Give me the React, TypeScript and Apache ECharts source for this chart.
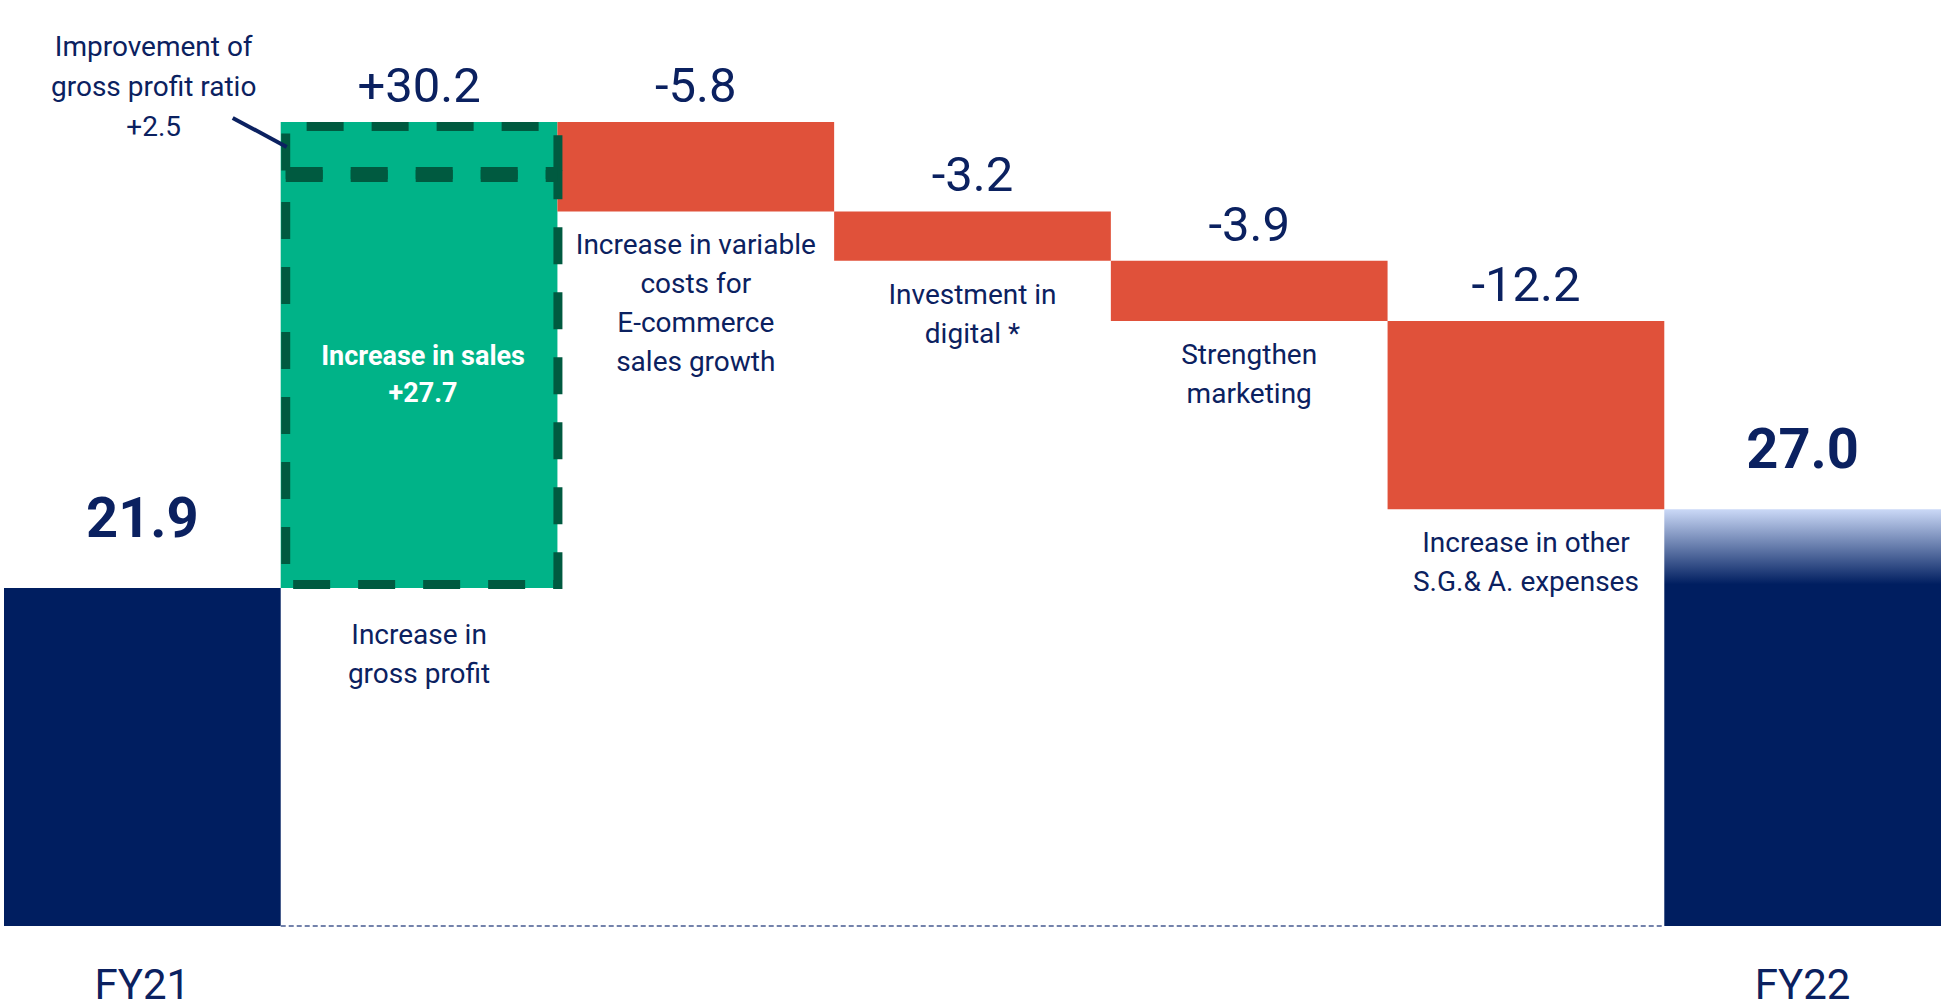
import React, { useEffect, useRef } from "react";
import * as echarts from "echarts";

// ---- data ----
const categories = [
  "FY21",
  "Increase in gross profit",
  "Increase in variable costs for E-commerce sales growth",
  "Investment in digital *",
  "Strengthen marketing",
  "Increase in other S.G.& A. expenses",
  "FY22",
];
const tickLabels = ["FY21", "", "", "", "", "", "FY22"];
const descLabels = [
  "",
  "Increase in\ngross profit",
  "Increase in variable\ncosts for\nE-commerce\nsales growth",
  "Investment in\ndigital *",
  "Strengthen\nmarketing",
  "Increase in other\nS.G.& A. expenses",
  "",
];
const changes = [21.9, 30.2, -5.8, -3.2, -3.9, -12.2, 27.0];
const kinds = ["total", "up", "down", "down", "down", "down", "total"];
// breakdown of the gross profit increase
const grossProfitParts = [27.7, 2.5];
const grossProfitPartLabels = ["Increase in sales", "Improvement of\ngross profit ratio"];
const grossProfitIndex = 1;

// ---- styles ----
const FONT = "Roboto, 'Noto Sans', sans-serif";
const TEXT = "#0b2160";
const NAVY = "#001e60";
const GREEN = "#00b388";
const DARK_GREEN = "#005a40";
const RED = "#e0513a";

// waterfall geometry from data
const bases: number[] = [];
const heights: number[] = [];
{
  let running = 0;
  changes.forEach((c, i) => {
    if (kinds[i] === "total") {
      bases.push(0);
      heights.push(c);
      running = c;
    } else if (c >= 0) {
      bases.push(+running.toFixed(2));
      heights.push(c);
      running += c;
    } else {
      running += c;
      bases.push(+running.toFixed(2));
      heights.push(-c);
    }
  });
}
const valueLabels = changes.map((c, i) =>
  kinds[i] === "up" ? "+" + c.toFixed(1) : c.toFixed(1)
);

export default function App() {
  const ref = useRef<HTMLDivElement>(null);
  useEffect(() => {
    if (!ref.current) return;
    const chart = echarts.init(ref.current, undefined, { renderer: "svg" });

    const valueData = heights.map((h, i) => {
      const k = kinds[i];
      let color: any = k === "up" ? GREEN : k === "down" ? RED : NAVY;
      if (i === changes.length - 1) {
        color = {
          type: "linear",
          x: 0,
          y: 0,
          x2: 0,
          y2: 1,
          colorStops: [
            { offset: 0, color: "#cbd9f7" },
            { offset: 0.18, color: NAVY },
            { offset: 1, color: NAVY },
          ],
        };
      }
      const isTotal = k === "total";
      return {
        value: h,
        itemStyle: { color },
        label: {
          fontSize: isTotal ? 56 : 49,
          fontWeight: isTotal ? "bold" : "normal",
          lineHeight: isTotal ? 56 : 49,
          distance: isTotal ? (i === 0 ? 42 : 32) : 12,
        },
      };
    });

    const baseData = bases.map((b, i) => ({
      value: b,
      label: { distance: i === grossProfitIndex ? 27 : 14 },
    }));

    const gpTop = bases[grossProfitIndex] + heights[grossProfitIndex];
    const gpSplit = bases[grossProfitIndex] + grossProfitParts[0];

    const option: any = {
      animation: false,
      backgroundColor: "#ffffff",
      grid: { left: 4, right: 5, top: 0, bottom: 82, containLabel: false },
      xAxis: {
        type: "category",
        data: categories,
        axisLine: { show: false },
        axisTick: { show: false },
        axisLabel: {
          interval: 0,
          margin: 37,
          fontSize: 42,
          lineHeight: 42,
          color: TEXT,
          fontFamily: FONT,
          formatter: (_v: string, idx: number) => tickLabels[idx],
        },
      },
      yAxis: {
        type: "value",
        min: 0,
        max: 60,
        show: false,
        splitLine: { show: false },
      },
      series: [
        {
          name: "base",
          type: "bar",
          stack: "w",
          barCategoryGap: "0%",
          itemStyle: { color: "rgba(0,0,0,0)" },
          label: {
            show: true,
            position: "insideTop",
            fontSize: 28,
            lineHeight: 39,
            color: TEXT,
            fontFamily: FONT,
            formatter: (p: any) => descLabels[p.dataIndex],
          },
          data: baseData,
          silent: true,
        },
        {
          name: "change",
          type: "bar",
          stack: "w",
          barCategoryGap: "0%",
          label: {
            show: true,
            position: "top",
            color: TEXT,
            fontFamily: FONT,
            formatter: (p: any) => valueLabels[p.dataIndex],
          },
          data: valueData,
        },
        {
          name: "grossProfitDetail",
          type: "custom",
          z: 5,
          encode: { x: 0, y: 1 },
          data: [[grossProfitIndex, bases[grossProfitIndex], gpSplit, gpTop]],
          renderItem: (_params: any, api: any) => {
            const idx = api.value(0);
            const [cx, bottomY] = api.coord([idx, api.value(1)]);
            const splitY = api.coord([idx, api.value(2)])[1];
            const topY = api.coord([idx, api.value(3)])[1];
            const w = api.size([1, 0])[0];
            const left = cx - w / 2;
            const right = cx + w / 2;
            const xl = left + 5;
            const xr = right + 0.5;
            const dash = {
              fill: "none",
              stroke: DARK_GREEN,
              lineWidth: 9,
              lineDash: [37, 28],
            };
            return {
              type: "group",
              children: [
                {
                  type: "polyline",
                  shape: {
                    points: [
                      [xl, splitY + 10],
                      [xl, topY + 4.5],
                      [xr, topY + 4.5],
                      [xr, splitY + 10],
                    ],
                  },
                  style: dash,
                },
                {
                  type: "rect",
                  shape: {
                    x: xl,
                    y: splitY + 14,
                    width: xr - xl,
                    height: bottomY - 3.5 - (splitY + 14),
                  },
                  style: dash,
                },
                {
                  type: "line",
                  shape: { x1: xl, y1: splitY + 14, x2: xr, y2: splitY + 14 },
                  style: { ...dash, lineWidth: 15 },
                },
                {
                  type: "line",
                  shape: { x1: left - 48, y1: topY - 4, x2: left + 6, y2: topY + 25 },
                  style: { stroke: TEXT, lineWidth: 4 },
                },
                {
                  type: "text",
                  style: {
                    text:
                      grossProfitPartLabels[1] + "\n+" + grossProfitParts[1].toFixed(1),
                    x: left - 127,
                    y: topY - 95,
                    align: "center",
                    verticalAlign: "top",
                    fontSize: 28,
                    lineHeight: 40,
                    fontFamily: FONT,
                    fill: TEXT,
                  },
                },
                {
                  type: "text",
                  style: {
                    text:
                      grossProfitPartLabels[0] + "\n+" + grossProfitParts[0].toFixed(1),
                    x: cx + 4,
                    y: (splitY + bottomY) / 2,
                    align: "center",
                    verticalAlign: "middle",
                    fontSize: 27,
                    fontWeight: "bold",
                    lineHeight: 37,
                    fontFamily: FONT,
                    fill: "#ffffff",
                  },
                },
              ],
            };
          },
        },
        {
          name: "baseline",
          type: "custom",
          z: 4,
          encode: { x: 0, y: 2 },
          data: [[1, 5, 0]],
          renderItem: (_params: any, api: any) => {
            const w = api.size([1, 0])[0];
            const [xa, y] = api.coord([api.value(0), api.value(2)]);
            const xb = api.coord([api.value(1), api.value(2)])[0];
            return {
              type: "line",
              shape: { x1: xa - w / 2, y1: y, x2: xb + w / 2, y2: y },
              style: { stroke: "#7382ab", lineWidth: 2, lineDash: [5, 3] },
            };
          },
        },
      ],
    };
    chart.setOption(option);
    return () => chart.dispose();
  }, []);

  return (
    <div
      ref={ref}
      style={{
        position: "fixed",
        left: 0,
        top: 0,
        width: 1946,
        height: 1008,
        background: "#ffffff",
      }}
    />
  );
}
